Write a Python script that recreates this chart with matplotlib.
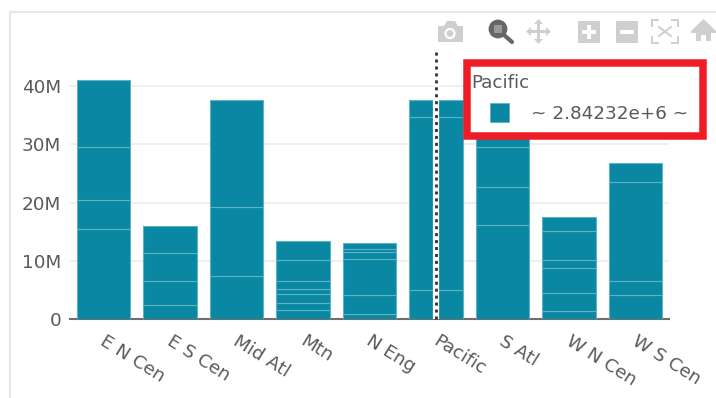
import matplotlib
matplotlib.use('Agg')
import matplotlib.pyplot as plt
from matplotlib.patches import Rectangle, Circle, Polygon

W, H = 716, 398

regions = ['E N Cen', 'E S Cen', 'Mid Atl', 'Mtn', 'N Eng', 'Pacific', 'S Atl', 'W N Cen', 'W S Cen']

# stacked pieces per region, in millions, read bottom to top
e_n_cen = [15.45, 4.9, 9.15, 11.5]
e_s_cen = [2.45, 4.15, 4.8, 4.6]
mid_atl = [7.4, 11.8, 18.4]
mtn = [1.6, 1.1, 1.6, 0.8, 1.5, 3.55, 3.3]
n_eng = [0.85, 3.25, 6.2, 1.15, 0.5, 1.15]
pacific = [4.9, 29.8, 2.84232]
s_atl = [16.2, 6.5, 6.9, 13.4]
w_n_cen = [1.4, 3.0, 4.3, 1.35, 5.1, 2.4]
w_s_cen = [4.1, 2.5, 17.0, 3.25]
pieces = [e_n_cen, e_s_cen, mid_atl, mtn, n_eng, pacific, s_atl, w_n_cen, w_s_cen]

ytick_vals = [0, 10, 20, 30, 40]
ytick_labels = ['0', '10M', '20M', '30M', '40M']

BAR = '#0a87a2'
EDGE = '#5fb2c4'
TEXT = '#5a5a5a'
ICON = '#cfcfcf'
FS = 13.2

fig = plt.figure(figsize=(W / 100, H / 100), dpi=100)
ax = fig.add_axes([70.25 / W, (H - 319) / H, (668.75 - 70.25) / W, (319 - 52) / H])


def px(x, y):
    # figure pixel, origin top left, to figure fraction
    return x / W, 1 - y / H


def box(x0, y0, x1, y1, **kw):
    fig.add_artist(Rectangle(px(x0, y1), (x1 - x0) / W, (y1 - y0) / H, transform=fig.transFigure, **kw))


for i, stack in enumerate(pieces):
    bottom = 0
    for v in stack:
        ax.bar(i, v, 0.8, bottom=bottom, color=BAR, edgecolor=EDGE, linewidth=0.8, zorder=3)
        bottom += v

ax.set_xlim(-0.5, 8.5)
ax.set_ylim(0, 45.84)
for s in ax.spines.values():
    s.set_visible(False)
ax.yaxis.grid(True, color='#efefef', linewidth=1.5, zorder=0)
ax.axhline(0, color='#6e6e6e', linewidth=1.5, zorder=2, clip_on=False)
ax.tick_params(length=0)
ax.set_xticks([])
ax.set_yticks(ytick_vals)
ax.set_yticklabels(ytick_labels, fontsize=FS, color=TEXT)
ax.tick_params(axis='y', pad=6.5)

# rotated labels hang off the tick position like plotly does
for i, name in enumerate(regions):
    ax.annotate(name, (i, 0), xytext=(-1, -15), textcoords='offset points', rotation=-32,
                rotation_mode='anchor', ha='left', va='center', fontsize=FS, color=TEXT)

# spike line on Pacific
ax.plot([5, 5], [0, 45.84], color='white', linewidth=4.5, zorder=4, solid_capstyle='butt')
ax.plot([5, 5], [0, 45.84], color='#333333', linewidth=2, dashes=(1.1, 1.4), zorder=5, clip_on=False)

# outer frame of the plot container
box(10, 12, W + 5, H + 5, facecolor='none', edgecolor='#e6e6e6', linewidth=1.5)

# hover legend with red highlight
box(467, 63.5, 703, 136, facecolor='white', edgecolor='#ee1c25', linewidth=5.4, zorder=10)
fig.text(*px(471, 83), 'Pacific', fontsize=FS, color=TEXT, va='center', zorder=11)
box(490, 103, 509, 122, facecolor=BAR, edgecolor=EDGE, linewidth=0.6, zorder=11)
fig.text(*px(531, 114), '~ 2.84232e+6 ~', fontsize=FS, color=TEXT, va='center', zorder=11)


# modebar icons
def add(p):
    p.set_transform(fig.transFigure)
    fig.add_artist(p)


def poly(points, color=ICON):
    add(Polygon([px(*q) for q in points], closed=True, facecolor=color, edgecolor='none'))


def ring(cx, cy, r, color):
    # keep it round on a non square figure
    a = fig.add_axes([(cx - r) / W, 1 - (cy + r) / H, 2 * r / W, 2 * r / H])
    a.axis('off')
    a.set_zorder(12)
    a.add_patch(Circle((0.5, 0.5), 0.47, facecolor=color, edgecolor='none'))
    a.set_xlim(0, 1)
    a.set_ylim(0, 1)


# camera
poly([(438, 26), (444, 26), (447, 21), (455, 21), (458, 26), (463, 26), (463, 42), (438, 42)])
ring(450, 33.5, 6, 'white')
ring(450, 33.5, 3.6, ICON)

# zoom, the active one
ring(498, 29, 10, '#666666')
box(494, 25, 502, 33, facecolor='#999999', edgecolor='none', zorder=13)
fig.add_artist(plt.Line2D([px(504, 35)[0], px(512, 42)[0]], [px(504, 35)[1], px(512, 42)[1]],
                          color='#666666', linewidth=3, solid_capstyle='round', zorder=13))

# pan
poly([(538.5, 19), (543, 24), (540, 24), (540, 30), (546, 30), (546, 27), (551, 31.5), (546, 36), (546, 33),
      (540, 33), (540, 39), (543, 39), (538.5, 44), (534, 39), (537, 39), (537, 33), (531, 33), (531, 36),
      (526, 31.5), (531, 27), (531, 30), (537, 30), (537, 24), (534, 24)])

# plus and minus
box(578, 21, 600, 42.5, facecolor=ICON, edgecolor='none')
box(582, 30, 596, 33.5, facecolor='white', edgecolor='none', zorder=13)
box(587.3, 25, 590.7, 38.5, facecolor='white', edgecolor='none', zorder=13)
box(616, 21, 638, 42.5, facecolor=ICON, edgecolor='none')
box(620, 30, 634, 33.5, facecolor='white', edgecolor='none', zorder=13)

# autoscale: corner brackets and a cross
for a, b in [((652, 20), (658, 20)), ((652, 20), (652, 26)), ((678, 20), (672, 20)), ((678, 20), (678, 26)),
             ((652, 43), (658, 43)), ((652, 43), (652, 37)), ((678, 43), (672, 43)), ((678, 43), (678, 37)),
             ((659, 27), (671, 36)), ((671, 27), (659, 36))]:
    fig.add_artist(plt.Line2D([px(*a)[0], px(*b)[0]], [px(*a)[1], px(*b)[1]], color=ICON, linewidth=1.4))

# home
poly([(703.5, 19), (716, 31), (716, 33), (711, 33), (711, 41), (706, 41), (706, 35), (701, 35), (701, 41),
      (696, 41), (696, 33), (691, 33), (691, 31)])

fig.savefig('out.png', dpi=100)
